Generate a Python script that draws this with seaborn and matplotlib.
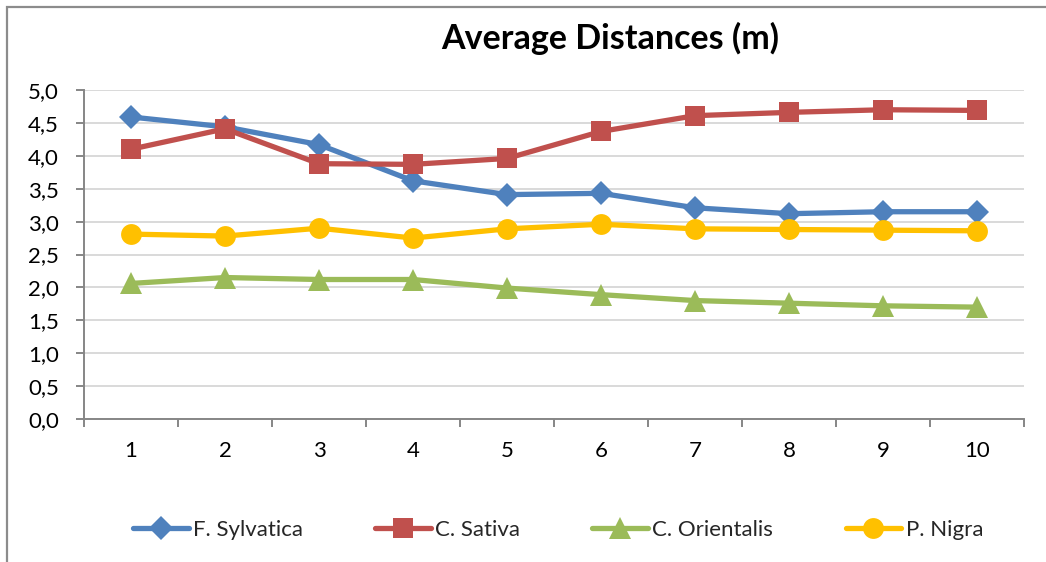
import matplotlib
matplotlib.use("Agg")
import matplotlib.pyplot as plt
from matplotlib.patches import Rectangle
from matplotlib.ticker import FixedLocator, FuncFormatter
import numpy as np
import pandas as pd
import seaborn as sns

# Sampling positions
positions = [1, 2, 3, 4, 5, 6, 7, 8, 9, 10]

# Average distances (m) per species
f_sylvatica = [4.59, 4.44, 4.17, 3.62, 3.41, 3.43, 3.21, 3.12, 3.15, 3.15]
c_sativa = [4.10, 4.41, 3.88, 3.87, 3.96, 4.37, 4.61, 4.66, 4.70, 4.69]
c_orientalis = [2.06, 2.15, 2.12, 2.12, 1.99, 1.89, 1.80, 1.76, 1.72, 1.70]
p_nigra = [2.81, 2.78, 2.90, 2.75, 2.89, 2.96, 2.89, 2.88, 2.87, 2.86]

species = ["F. Sylvatica", "C. Sativa", "C. Orientalis", "P. Nigra"]
series = [f_sylvatica, c_sativa, c_orientalis, p_nigra]
colors = ["#4F81BD", "#C0504D", "#9BBB59", "#FFC000"]
markers = ["D", "s", "^", "o"]
msizes = [12, 14.5, 16, 15]

df = pd.DataFrame({
    "position": positions * len(species),
    "distance": [v for s in series for v in s],
    "species": [sp for sp in species for _ in positions],
})

sns.set_theme(style="white")
plt.rcParams["font.family"] = ["Lato", "DejaVu Sans"]

fig = plt.figure(figsize=(10.46, 5.62), dpi=100)
ax = fig.add_axes([84 / 1046, 1 - 419 / 562, 940 / 1046, 329 / 562])

for sp, col, mk, ms in zip(species, colors, markers, msizes):
    sns.lineplot(data=df[df["species"] == sp], x="position", y="distance",
                 ax=ax, color=col, marker=mk, markersize=ms, linewidth=3.8,
                 markeredgewidth=0, label=sp, zorder=3)

ax.set_xlim(0.5, 10.5)
ax.set_ylim(0, 5.0)
ax.set_xlabel("")
ax.set_ylabel("")

# y axis: gridlines every 0.5 with comma decimals
yt = np.arange(0, 5.01, 0.5)
ax.yaxis.set_major_locator(FixedLocator(yt))
ax.yaxis.set_major_formatter(FuncFormatter(lambda v, p: f"{v:.1f}".replace(".", ",")))
ax.grid(axis="y", color="#D9D9D9", linewidth=1.4)
ax.grid(axis="x", visible=False)

# x axis: labels at categories, tick marks between them
ax.xaxis.set_major_locator(FixedLocator(positions))
ax.xaxis.set_minor_locator(FixedLocator(np.arange(0.5, 10.6, 1.0)))
ax.tick_params(axis="x", which="major", length=0, pad=16, labelsize=16, labelcolor="black")
ax.tick_params(axis="x", which="minor", length=6, width=1.4, color="#868686", direction="out", bottom=True)
ax.tick_params(axis="y", which="major", length=6, width=1.4, color="#868686", direction="out",
               left=True, pad=12, labelsize=16, labelcolor="black")

for side in ["top", "right"]:
    ax.spines[side].set_visible(False)
for side in ["left", "bottom"]:
    ax.spines[side].set_color("#868686")
    ax.spines[side].set_linewidth(1.4)

fig.text(610 / 1046, 1 - 38 / 562, "Average Distances (m)", ha="center", va="center",
         fontsize=24.5, fontweight="bold", color="black")

handles, labels = ax.get_legend_handles_labels()
if ax.legend_:
    ax.legend_.remove()
fig.legend(handles, labels, loc="center", bbox_to_anchor=(558 / 1046, 1 - 530 / 562),
           ncol=4, frameon=False, fontsize=16, handlelength=2.5, handletextpad=0.2,
           columnspacing=3.25)

# chart frame
fig.patches.append(Rectangle((7 / 1046, -0.1), 1.2, (562 - 7) / 562 + 0.1,
                             transform=fig.transFigure, fill=False,
                             edgecolor="#8C8C8C", linewidth=1.6, zorder=0))

fig.savefig("out.png", dpi=100)
